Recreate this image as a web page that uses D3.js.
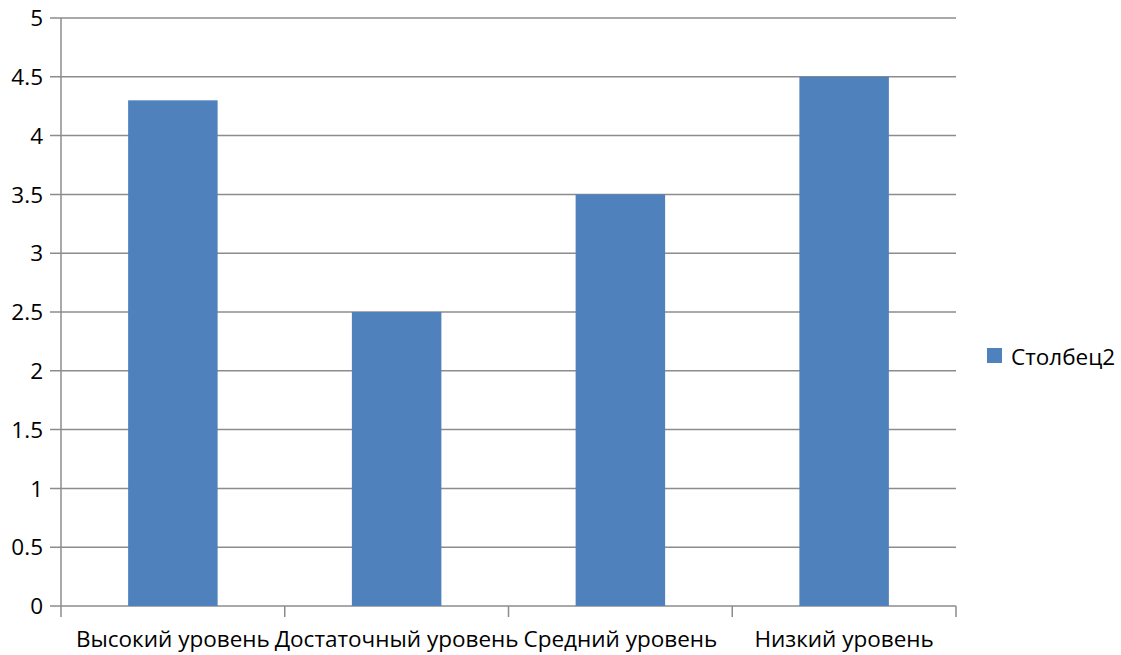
<!DOCTYPE html>
<html><head><meta charset="utf-8">
<script src="https://cdn.jsdelivr.net/npm/d3@7"></script>
<style>body{margin:0;background:#fff}svg{display:block}text{font-family:"Open Sans",Lato,sans-serif;fill:#000}</style>
</head><body>
<svg id="c" width="1121" height="655"></svg>
<script>
const categories = ["Высокий уровень","Достаточный уровень","Средний уровень","Низкий уровень"];
const values = [4.3, 2.5, 3.5, 4.5];
const yTicks = [0,0.5,1,1.5,2,2.5,3,3.5,4,4.5,5];
const seriesName = "Столбец2";

const svg = d3.select("#c");
const L=61, R=956, T=18, B=606;
const x = d3.scaleBand().domain(categories).range([L,R]).padding(0);
const y = d3.scaleLinear().domain([0,5]).range([B,T]);

svg.append("g").selectAll("line").data(yTicks).join("line")
  .attr("x1",L-11).attr("x2",R).attr("y1",d=>y(d)).attr("y2",d=>y(d))
  .attr("stroke","#8c8c8c").attr("stroke-width",1.5);

svg.append("g").selectAll("text").data(yTicks).join("text")
  .attr("x",43).attr("y",d=>y(d)).attr("dy","0.36em").attr("text-anchor","end")
  .attr("font-size",22.5).text(d=>d);

svg.append("line").attr("x1",L).attr("x2",L).attr("y1",T).attr("y2",B)
  .attr("stroke","#8c8c8c").attr("stroke-width",1.5);

const xt = categories.map(c=>x(c)).concat([R]);
svg.append("g").selectAll("line").data(xt).join("line")
  .attr("x1",d=>d).attr("x2",d=>d).attr("y1",B).attr("y2",B+11)
  .attr("stroke","#8c8c8c").attr("stroke-width",1.5);

const bw = x.bandwidth()*0.4;
svg.append("g").selectAll("rect").data(values).join("rect")
  .attr("x",(d,i)=>x(categories[i])+x.bandwidth()/2-bw/2)
  .attr("width",bw)
  .attr("y",d=>y(d)).attr("height",d=>B-y(d))
  .attr("fill","#4F81BD");

svg.append("g").selectAll("text").data(categories).join("text")
  .attr("x",d=>x(d)+x.bandwidth()/2).attr("y",647).attr("text-anchor","middle")
  .attr("font-size",22.5).text(d=>d);

svg.append("rect").attr("x",987).attr("y",348).attr("width",15).attr("height",15).attr("fill","#4F81BD");
svg.append("text").attr("x",1011).attr("y",365).attr("font-size",22.5).text(seriesName);
</script>
</body></html>
